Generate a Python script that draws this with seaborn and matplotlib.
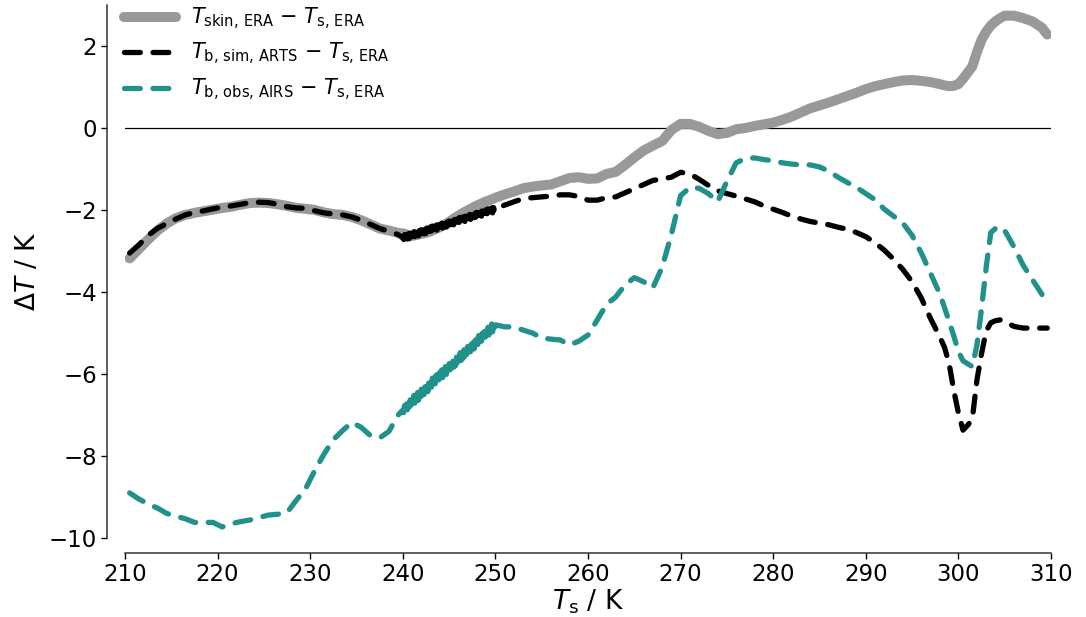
import numpy as np
import pandas as pd
import matplotlib
matplotlib.use("Agg")
import matplotlib.pyplot as plt
import seaborn as sns

# Surface temperature bins (K) of the ERA skin-temperature curve
T_skin_bins = np.concatenate([
    np.arange(210.5, 240.0, 1.0),
    np.arange(240.0, 250.01, 0.5),
    np.arange(251.0, 298.5, 1.0),
    np.arange(298.5, 305.01, 0.5),
    [306.0, 307.0, 308.0, 309.0, 309.6],
])

# Surface temperature bins (K) of the brightness-temperature curves
# (0.1 K bins between 240 and 250 K)
T_tb_bins = np.concatenate([
    np.arange(210.5, 240.0, 1.0),
    np.linspace(240.0, 250.0, 101),
    np.arange(251.0, 298.5, 1.0),
    np.arange(298.5, 305.01, 0.5),
    [306.0, 307.0, 308.0, 309.0, 309.6],
])

# T_skin,ERA - T_s,ERA
d_skin = [
    -3.18, -2.95, -2.72, -2.50, -2.33, -2.20, -2.12, -2.07, -2.03, -1.99,
    -1.95, -1.92, -1.87, -1.83, -1.82, -1.83, -1.86, -1.90, -1.95, -1.97,
    -2.00, -2.06, -2.10, -2.12, -2.17, -2.25, -2.35, -2.45, -2.50, -2.56,
    # 240 - 250 K
    -2.57, -2.60, -2.63, -2.61, -2.58, -2.56, -2.52, -2.47, -2.42, -2.36,
    -2.29, -2.21, -2.14, -2.07, -2.01, -1.95, -1.89, -1.84, -1.79, -1.75,
    -1.70,
    # 251 - 298 K
    -1.62, -1.55, -1.47, -1.43, -1.40, -1.38, -1.30, -1.22, -1.20, -1.24,
    -1.23, -1.12, -1.07, -0.90, -0.72, -0.55, -0.43, -0.32, -0.05, 0.10,
    0.10, 0.03, -0.07, -0.15, -0.12, -0.03, 0.00, 0.05, 0.09, 0.13,
    0.20, 0.28, 0.38, 0.48, 0.55, 0.62, 0.70, 0.78, 0.86, 0.95,
    1.02, 1.07, 1.12, 1.16, 1.17, 1.15, 1.12, 1.07,
    # 298.5 - 305 K
    1.04, 1.02, 1.03, 1.07, 1.20, 1.35, 1.50, 1.85, 2.15, 2.35,
    2.50, 2.60, 2.68, 2.74,
    # 306 - 309.6 K
    2.74, 2.68, 2.60, 2.45, 2.28,
]

# T_b,sim,ARTS - T_s,ERA
d_sim = [
    -3.05, -2.85, -2.62, -2.45, -2.33, -2.22, -2.12, -2.06, -2.02, -1.97,
    -1.93, -1.90, -1.86, -1.82, -1.81, -1.82, -1.86, -1.92, -1.95, -1.96,
    -2.02, -2.07, -2.10, -2.12, -2.17, -2.25, -2.35, -2.45, -2.52, -2.60,
    # 240 - 250 K
    -2.68, -2.72, -2.60, -2.72, -2.61, -2.71, -2.58, -2.70, -2.57, -2.66,
    -2.55, -2.65, -2.53, -2.65, -2.54, -2.64, -2.51, -2.63, -2.50, -2.59,
    -2.48, -2.58, -2.46, -2.58, -2.47, -2.57, -2.44, -2.56, -2.43, -2.52,
    -2.41, -2.51, -2.39, -2.51, -2.40, -2.50, -2.37, -2.49, -2.36, -2.45,
    -2.34, -2.44, -2.32, -2.44, -2.33, -2.43, -2.30, -2.42, -2.29, -2.38,
    -2.27, -2.37, -2.25, -2.37, -2.26, -2.36, -2.23, -2.35, -2.22, -2.31,
    -2.20, -2.30, -2.18, -2.30, -2.19, -2.29, -2.16, -2.28, -2.15, -2.24,
    -2.13, -2.23, -2.11, -2.23, -2.12, -2.22, -2.09, -2.21, -2.08, -2.17,
    -2.06, -2.16, -2.04, -2.16, -2.05, -2.15, -2.02, -2.14, -2.01, -2.10,
    -1.99, -2.09, -1.97, -2.09, -1.98, -2.08, -1.95, -2.07, -1.94, -2.03,
    -1.98,
    # 251 - 298 K
    -1.88, -1.80, -1.72, -1.70, -1.68, -1.66, -1.63, -1.63, -1.67, -1.76,
    -1.76, -1.70, -1.68, -1.58, -1.48, -1.38, -1.28, -1.24, -1.20, -1.08,
    -1.12, -1.25, -1.40, -1.53, -1.60, -1.66, -1.73, -1.80, -1.90, -1.98,
    -2.06, -2.15, -2.22, -2.28, -2.32, -2.36, -2.42, -2.47, -2.55, -2.65,
    -2.80, -2.98, -3.20, -3.45, -3.75, -4.15, -4.65, -5.10,
    # 298.5 - 305 K
    -5.35, -5.75, -6.40, -6.95, -7.37, -7.25, -7.10, -6.15, -5.50, -4.95,
    -4.75, -4.70, -4.68, -4.72,
    # 306 - 309.6 K
    -4.84, -4.88, -4.88, -4.88, -4.88,
]

# T_b,obs,AIRS - T_s,ERA
d_obs = [
    -8.90, -9.05, -9.17, -9.27, -9.40, -9.47, -9.53, -9.62, -9.62, -9.62,
    -9.73, -9.65, -9.60, -9.56, -9.50, -9.44, -9.42, -9.38, -9.08, -8.80,
    -8.35, -7.95, -7.60, -7.38, -7.18, -7.30, -7.50, -7.56, -7.40, -7.00,
    # 240 - 250 K
    -6.88, -6.94, -6.73, -6.92, -6.73, -6.87, -6.66, -6.84, -6.63, -6.76,
    -6.58, -6.73, -6.52, -6.71, -6.52, -6.66, -6.45, -6.64, -6.43, -6.56,
    -6.37, -6.52, -6.31, -6.50, -6.31, -6.45, -6.24, -6.43, -6.22, -6.35,
    -6.17, -6.32, -6.10, -6.29, -6.10, -6.24, -6.03, -6.22, -6.01, -6.14,
    -5.96, -6.11, -5.90, -6.09, -5.90, -6.03, -5.82, -6.01, -5.80, -5.93,
    -5.75, -5.90, -5.69, -5.88, -5.69, -5.83, -5.62, -5.80, -5.59, -5.72,
    -5.54, -5.69, -5.48, -5.67, -5.48, -5.62, -5.41, -5.60, -5.39, -5.52,
    -5.33, -5.48, -5.27, -5.46, -5.27, -5.41, -5.20, -5.39, -5.18, -5.31,
    -5.13, -5.28, -5.06, -5.25, -5.06, -5.20, -4.99, -5.18, -4.97, -5.10,
    -4.92, -5.07, -4.86, -5.05, -4.86, -4.99, -4.78, -4.97, -4.76, -4.89,
    -4.80,
    # 251 - 298 K
    -4.85, -4.85, -4.93, -5.00, -5.12, -5.15, -5.17, -5.29, -5.20, -5.05,
    -4.68, -4.30, -4.12, -3.83, -3.65, -3.75, -3.90, -3.40, -2.60, -1.65,
    -1.45, -1.47, -1.60, -1.80, -1.30, -0.85, -0.74, -0.73, -0.77, -0.80,
    -0.85, -0.88, -0.90, -0.90, -0.95, -1.05, -1.20, -1.33, -1.45, -1.60,
    -1.75, -1.98, -2.15, -2.32, -2.62, -3.05, -3.55, -4.05,
    # 298.5 - 305 K
    -4.38, -4.72, -5.07, -5.45, -5.68, -5.75, -5.82, -5.30, -4.40, -3.40,
    -2.55, -2.45, -2.41, -2.50,
    # 306 - 309.6 K
    -2.90, -3.35, -3.70, -4.05, -4.30,
]

labels = [
    r"$T_{\mathrm{skin,\,ERA}}$ $-$ $T_{\mathrm{s,\,ERA}}$",
    r"$T_{\mathrm{b,\,sim,\,ARTS}}$ $-$ $T_{\mathrm{s,\,ERA}}$",
    r"$T_{\mathrm{b,\,obs,\,AIRS}}$ $-$ $T_{\mathrm{s,\,ERA}}$",
]
x_ticks = [210, 220, 230, 240, 250, 260, 270, 280, 290, 300, 310]
y_ticks = [-10, -8, -6, -4, -2, 0, 2]

skin_df = pd.DataFrame({"Ts": T_skin_bins, "dT": d_skin})
tb_df = pd.DataFrame({"Ts": T_tb_bins, "sim": d_sim, "obs": d_obs})

sns.set_style("ticks")
plt.rcParams["font.family"] = ["DejaVu Sans"]
plt.rcParams["mathtext.fontset"] = "dejavusans"
plt.rcParams["text.color"] = "black"
plt.rcParams["axes.labelcolor"] = "black"
# keep every vertex of the finely binned curves
plt.rcParams["path.simplify"] = False

fig = plt.figure(figsize=(10.86, 6.17), dpi=100)
ax = fig.add_axes([125 / 1086, 79 / 617, 926 / 1086, 533 / 617])

ax.axhline(0, color="black", lw=0.9, zorder=1)

sns.lineplot(data=skin_df, x="Ts", y="dT", ax=ax, color="#999999", lw=7.2,
             solid_capstyle="round", estimator=None, label=labels[0])
sns.lineplot(data=tb_df, x="Ts", y="sim", ax=ax, color="black", lw=3.8,
             linestyle=(0, (3.0, 2.4)), dash_capstyle="round",
             estimator=None, label=labels[1])
sns.lineplot(data=tb_df, x="Ts", y="obs", ax=ax, color="#21918c", lw=3.8,
             linestyle=(0, (3.0, 2.4)), dash_capstyle="round",
             estimator=None, label=labels[2])

ax.set_xlim(210, 310)
ax.set_ylim(-10, 3.0)
ax.set_xticks(x_ticks)
ax.set_yticks(y_ticks)
ax.tick_params(labelsize=16.5, colors="black", length=4, width=1, pad=3)
for s in ("top", "right"):
    ax.spines[s].set_visible(False)
ax.spines["left"].set_position(("outward", 13))
ax.spines["bottom"].set_position(("outward", 11))
ax.spines["left"].set_bounds(-10, 3.0)
ax.spines["bottom"].set_bounds(210, 310)
for s in ("left", "bottom"):
    ax.spines[s].set_color("#333333")
    ax.spines[s].set_linewidth(1.1)

ax.set_xlabel(r"$T_\mathrm{s}$ / K", fontsize=19, labelpad=1)
ax.set_ylabel(r"$\Delta T$ / K", fontsize=19, labelpad=6)

ax.legend(loc="upper left", bbox_to_anchor=(-0.001, 0.999), frameon=False,
          fontsize=15, handlelength=2.5, handletextpad=0.7,
          labelspacing=0.45, borderaxespad=0, borderpad=0)

fig.savefig("out.png", dpi=100)
